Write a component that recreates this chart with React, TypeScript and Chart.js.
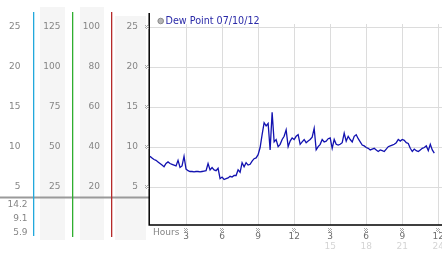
import React, { useEffect, useRef } from "react";
import { Chart, registerables } from "chart.js";

Chart.register(...registerables);

// ---- data ----
const STEP_HOURS = 1 / 6; // 10-minute readings
const DEW_POINT = [
  8.8, 8.6, 8.4, 8.3, 8.1, 7.9, 7.7, 7.5, 7.9, 8.1,
  7.9, 7.8, 7.7, 7.6, 8.3, 7.4, 7.6, 8.8, 7.2, 7.0,
  6.9, 6.9, 6.85, 6.9, 6.9, 6.85, 6.9, 6.95, 7.0, 7.9,
  7.1, 7.4, 7.1, 7.0, 7.3, 6.0, 6.2, 5.9, 6.0, 6.1,
  6.3, 6.2, 6.4, 6.4, 7.1, 6.8, 8.0, 7.5, 8.0, 7.7,
  7.8, 8.2, 8.5, 8.6, 9.0, 9.9, 11.5, 13.0, 12.6, 12.9,
  9.6, 14.3, 10.6, 10.9, 10.0, 10.3, 10.9, 11.3, 12.1, 10.0,
  10.7, 11.1, 10.9, 11.3, 11.5, 10.3, 10.6, 10.9, 10.5, 10.7,
  10.9, 11.2, 12.3, 9.6, 10.0, 10.3, 10.9, 10.6, 10.7, 11.0,
  11.1, 9.8, 10.9, 10.3, 10.2, 10.3, 10.5, 11.7, 10.7, 11.3,
  10.9, 10.6, 11.3, 11.5, 11.0, 10.6, 10.2, 10.1, 9.9, 9.8,
  9.6, 9.7, 9.8, 9.6, 9.4, 9.6, 9.5, 9.4, 9.7, 10.0,
  10.1, 10.2, 10.3, 10.5, 10.9, 10.7, 10.9, 10.8, 10.5, 10.4,
  9.8, 9.4, 9.7, 9.5, 9.4, 9.6, 9.8, 9.9, 10.1, 9.5,
  10.3, 9.6, 9.2,
];
const HOURS = DEW_POINT.map((_, i) => i * STEP_HOURS);

const Y_TICKS = [25, 20, 15, 10, 5];
const COL1_LABELS = ["25", "20", "15", "10", "5"];
const COL2_LABELS = ["125", "100", "75", "50", "25"];
const COL3_LABELS = ["100", "80", "60", "40", "20"];
const COL4_LABELS = ["25", "20", "15", "10", "5"];
const STATS = ["14.2", "9.1", "5.9"];

const X_TICKS = [3, 6, 9, 12, 15, 18, 21, 24];
const X_LABELS_12H = ["3", "6", "9", "12", "3", "6", "9", "12"];
const X_LABELS_24H = ["", "", "", "", "15", "18", "21", "24"];

const LEGEND_TEXT = "Dew Point 07/10/12";
const X_TITLE = "Hours";

const W = 442;
const H = 253;
const FONT = "9px 'DejaVu Sans', Verdana, sans-serif";
const GREY_TEXT = "#858585";

function mark(ctx: CanvasRenderingContext2D, cx: number, cy: number) {
  ctx.fillStyle = "#a8a8a8";
  const x0 = Math.round(cx - 2);
  const y0 = Math.round(cy - 2);
  for (let i = 0; i < 4; i++) {
    for (let j = 0; j < 4; j++) {
      if ((i + j) % 2 === 0) ctx.fillRect(x0 + i, y0 + j, 1, 1);
    }
  }
}

const decor = {
  id: "decor",
  beforeDatasetsDraw(chart: any) {
    const ctx: CanvasRenderingContext2D = chart.ctx;
    const { left, top, bottom } = chart.chartArea;
    const y = chart.scales.y;
    const x = chart.scales.x;
    ctx.save();
    // left panel column backgrounds
    ctx.fillStyle = "#f5f5f5";
    ctx.fillRect(40, 7, 25, 233);
    ctx.fillRect(80, 7, 24, 233);
    ctx.fillRect(115, 16, 31, 224);
    // separator
    ctx.fillStyle = "#9a9a9a";
    ctx.fillRect(0, 196.5, left, 2);
    // coloured column lines
    const lines: [number, string, number][] = [
      [33, "#22a8dc", 236],
      [72, "#2fae2f", 237],
      [111, "#b52a2a", 237],
    ];
    lines.forEach(([lx, c, b]) => {
      ctx.fillStyle = c;
      ctx.fillRect(lx, 12, 1.3, b - 12);
    });
    // column labels
    ctx.font = FONT;
    ctx.fillStyle = GREY_TEXT;
    ctx.textAlign = "right";
    ctx.textBaseline = "middle";
    Y_TICKS.forEach((v, i) => {
      const py = y.getPixelForValue(v);
      ctx.fillText(COL1_LABELS[i], 20.5, py);
      ctx.fillText(COL2_LABELS[i], 60.5, py);
      ctx.fillText(COL3_LABELS[i], 100, py);
      ctx.fillText(COL4_LABELS[i], 138, py);
    });
    STATS.forEach((s, i) => {
      ctx.fillText(s, 27.5, 204.5 + i * 14);
    });
    // gridlines
    ctx.strokeStyle = "#dcdcdc";
    ctx.lineWidth = 1;
    Y_TICKS.forEach((v) => {
      const py = Math.round(y.getPixelForValue(v)) + 0.5;
      ctx.beginPath();
      ctx.moveTo(left, py);
      ctx.lineTo(W, py);
      ctx.stroke();
    });
    X_TICKS.forEach((v) => {
      const px = Math.round(x.getPixelForValue(v)) + 0.5;
      ctx.beginPath();
      ctx.moveTo(px, top);
      ctx.lineTo(px, bottom);
      ctx.stroke();
    });
    ctx.restore();
  },
  afterDatasetsDraw(chart: any) {
    const ctx: CanvasRenderingContext2D = chart.ctx;
    const { left, bottom } = chart.chartArea;
    const y = chart.scales.y;
    const x = chart.scales.x;
    ctx.save();
    // axis lines
    ctx.strokeStyle = "#000";
    ctx.lineWidth = 1.5;
    ctx.beginPath();
    ctx.moveTo(left - 0.8, 13);
    ctx.lineTo(left - 0.8, bottom);
    ctx.lineTo(W, bottom);
    ctx.stroke();
    // y marks
    Y_TICKS.forEach((v) => mark(ctx, 146.5, y.getPixelForValue(v)));
    // x marks and labels
    ctx.font = FONT;
    ctx.textAlign = "center";
    ctx.textBaseline = "middle";
    X_TICKS.forEach((v, i) => {
      const px = x.getPixelForValue(v);
      mark(ctx, px, 229.5);
      ctx.fillStyle = "#6e6e6e";
      ctx.fillText(X_LABELS_12H[i], px, 236.5);
      ctx.fillStyle = "#d4d4d4";
      ctx.fillText(X_LABELS_24H[i], px, 247);
    });
    ctx.fillStyle = GREY_TEXT;
    ctx.textAlign = "left";
    ctx.fillText(X_TITLE, 153, 232.5);
    // legend
    ctx.beginPath();
    ctx.arc(160.7, 21, 2.8, 0, Math.PI * 2);
    ctx.fillStyle = "#b5b5b5";
    ctx.fill();
    ctx.strokeStyle = "#8a8a8a";
    ctx.lineWidth = 1;
    ctx.stroke();
    ctx.font = "9.6px 'DejaVu Sans', Verdana, sans-serif";
    ctx.fillStyle = "#2a2aa8";
    ctx.fillText(LEGEND_TEXT, 165.5, 21);
    ctx.restore();
  },
};

export default function App() {
  const ref = useRef<HTMLCanvasElement | null>(null);
  useEffect(() => {
    document.body.style.margin = "0";
    const canvas = ref.current!;
    const chart = new Chart(canvas, {
      type: "line",
      data: {
        datasets: [
          {
            label: LEGEND_TEXT,
            data: HOURS.map((h, i) => ({ x: h, y: DEW_POINT[i] })),
            borderColor: "#1212b0",
            borderWidth: 1.3,
            pointRadius: 0,
            tension: 0,
            fill: false,
          },
        ],
      },
      options: {
        animation: false,
        responsive: false,
        devicePixelRatio: 1,
        parsing: false,
        layout: { padding: { left: 150, right: W - 438.3, top: 24, bottom: H - 225 } },
        plugins: { legend: { display: false }, tooltip: { enabled: false } },
        scales: {
          x: { type: "linear", display: false, min: 0, max: 24 },
          y: { type: "linear", display: false, min: 0.21, max: 25.34 },
        },
      },
      plugins: [decor],
    });
    return () => chart.destroy();
  }, []);
  return <canvas ref={ref} width={W} height={H} style={{ display: "block", width: W, height: H }} />;
}
